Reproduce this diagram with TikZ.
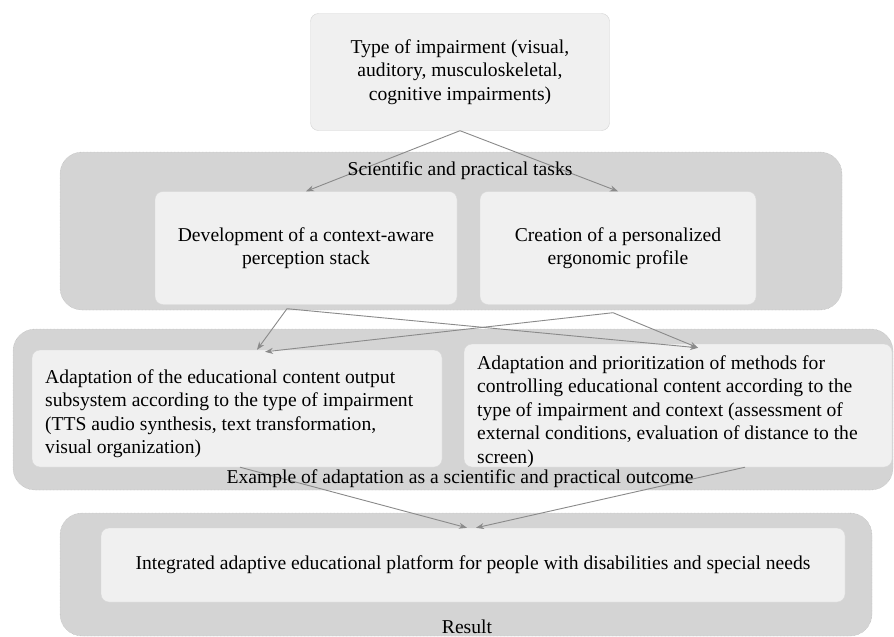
\documentclass[tikz,border=0pt]{standalone}
\usepackage{fontspec}
\setmainfont{Liberation Serif}
\usetikzlibrary{arrows.meta}
\definecolor{groupgray}{HTML}{D4D4D4}
\definecolor{boxgray}{HTML}{F0F0F0}
\definecolor{linegray}{HTML}{8A8A8A}
\begin{document}
\begin{tikzpicture}[
    x=1pt, y=-1pt,
    font=\fontsize{19.6}{23.5}\selectfont,
    group/.style={rectangle, draw=linegray!70, densely dotted, fill=groupgray, rounded corners=22pt},
    topbox/.style={rectangle, draw=groupgray, fill=boxgray, rounded corners=8pt, align=center},
    block/.style={rectangle, draw=boxgray!90!black, fill=boxgray, rounded corners=8pt, inner sep=0pt},
    grouplabel/.style={inner sep=0pt},
    arrow/.style={draw=linegray, line width=0.9pt, -{Stealth[length=8pt,width=6pt]}}
]
    \useasboundingbox[fill=white] (0,0) rectangle (894,637);

    % Groups
    \node [group, minimum width=782pt, minimum height=158pt] (tasks) at (451,231) {};
    \node [group, minimum width=880pt, minimum height=161pt] (example) at (453,409.5) {};
    \node [group, minimum width=812pt, minimum height=123pt] (result) at (466,574.5) {};

    % Nodes
    \node [topbox, minimum width=299pt, minimum height=117pt] (impairment) at (460,72)
        {Type of impairment (visual,\\auditory, musculoskeletal,\\cognitive impairments)};
    \node [block, minimum width=302pt, minimum height=113pt, align=center] (perception) at (306,248)
        {Development of a context-aware\\perception stack};
    \node [block, minimum width=276pt, minimum height=113pt, align=center] (profile) at (618,248)
        {Creation of a personalized\\ergonomic profile};
    \node [block, minimum width=410pt, minimum height=117pt] (output) at (237,408.5) {};
    \node [anchor=north west, align=left, inner sep=0pt] (outputtext) at (45,369)
        {Adaptation of the educational content output\\subsystem according to the type of impairment\\(TTS audio synthesis, text transformation,\\visual organization)};
    \node [block, minimum width=428pt, minimum height=123pt] (control) at (678,405.5) {};
    \node [anchor=north west, align=left, inner sep=0pt] (controltext) at (477,355)
        {Adaptation and prioritization of methods for\\controlling educational content according to the\\type of impairment and context (assessment of\\external conditions, evaluation of distance to the\\screen)};
    \node [block, minimum width=744pt, minimum height=74pt] (platform) at (473,565)
        {\raisebox{5pt}{Integrated adaptive educational platform for people with disabilities and special needs}};

    % Arrows
    \draw [arrow] (impairment.south) -- (perception.north);
    \draw [arrow] (impairment.south) -- (profile.north);
    \draw [arrow] ([xshift=-19pt,yshift=-4pt]perception.south) -- ([xshift=20pt]output.north);
    \draw [arrow] ([xshift=-19pt,yshift=-4pt]perception.south) -- ([xshift=20pt,yshift=-4pt]control.north);
    \draw [arrow] ([xshift=-5pt,yshift=-8pt]profile.south) -- ([xshift=28pt,yshift=-2pt]output.north);
    \draw [arrow] ([xshift=-5pt,yshift=-8pt]profile.south) -- ([xshift=20pt,yshift=-4pt]control.north);
    \draw [arrow] ([xshift=3pt]output.south) -- ([xshift=-6pt]platform.north);
    \draw [arrow] ([xshift=67pt]control.south) -- ([xshift=3pt]platform.north);

    % Group labels
    \node [grouplabel] (taskslabel) at (460,171) {Scientific and practical tasks};
    \node [grouplabel] (examplelabel) at (460,479) {Example of adaptation as a scientific and practical outcome};
    \node [grouplabel] (resultlabel) at (467,627) {Result};
\end{tikzpicture}
\end{document}
